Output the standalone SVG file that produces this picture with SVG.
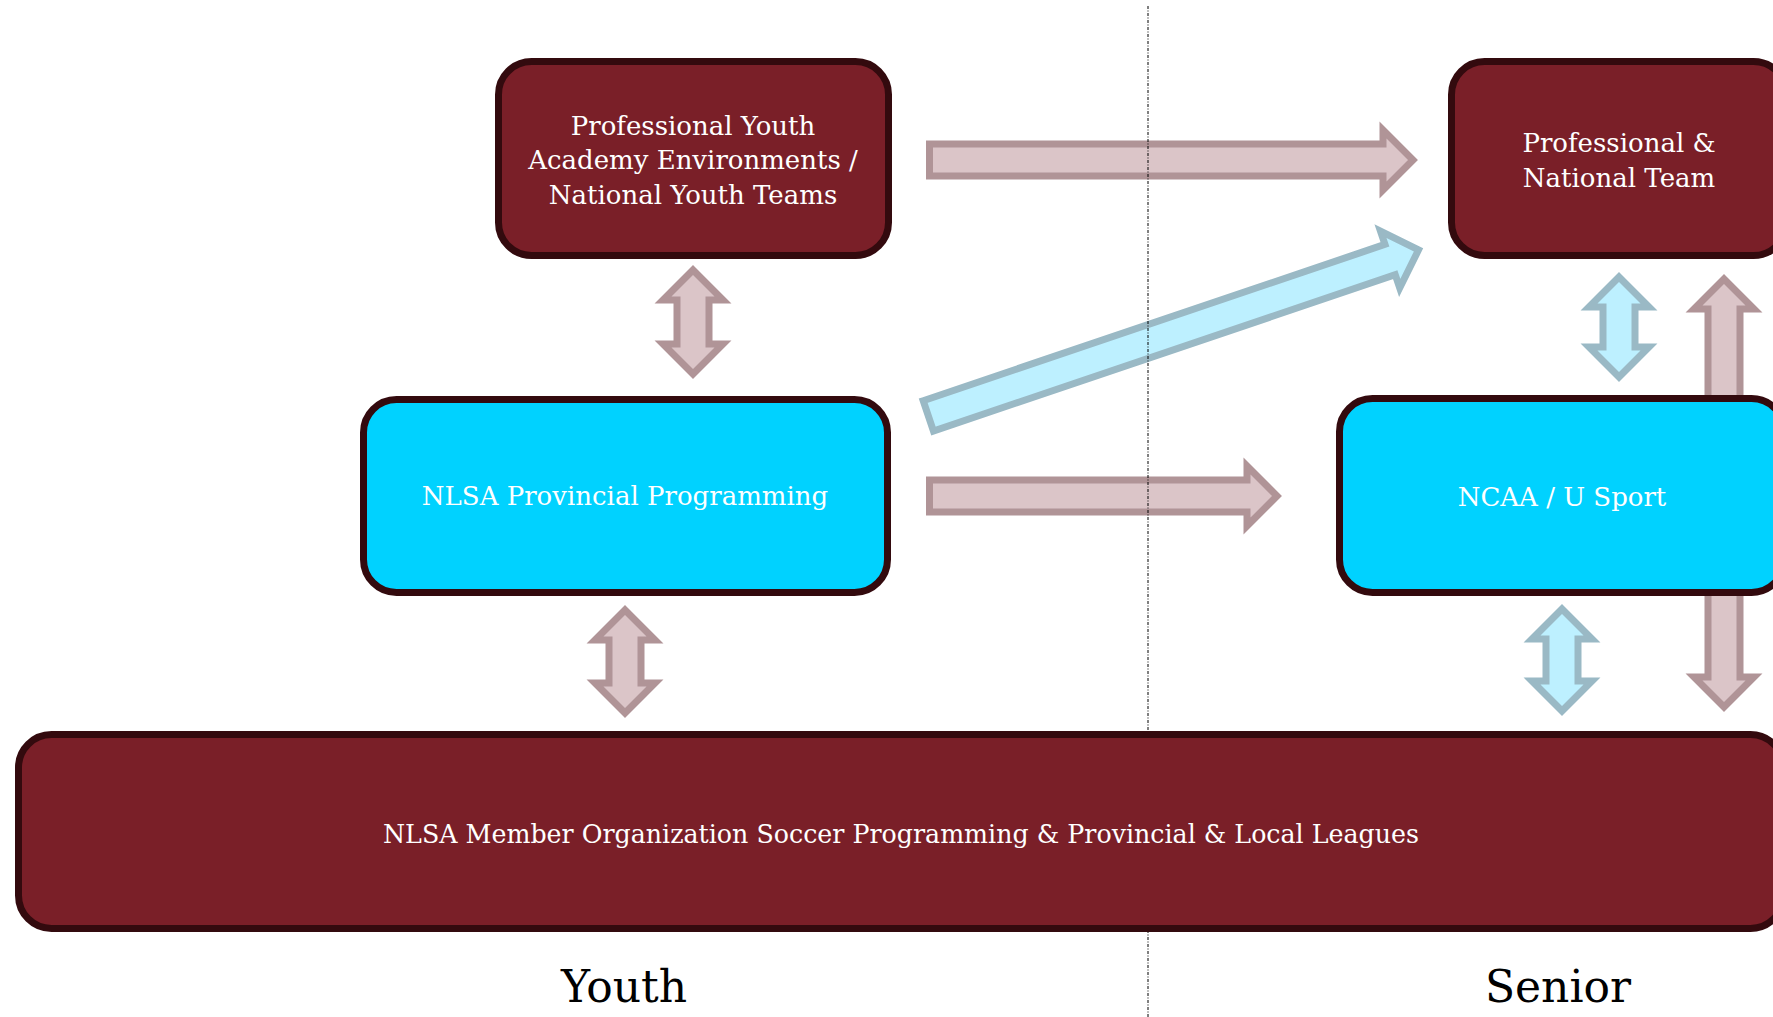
<svg xmlns="http://www.w3.org/2000/svg" width="1773" height="1017" viewBox="0 0 1773 1017">
  <style>
    .red { fill: #7A1F28; stroke: #330A0E; stroke-width: 7; }
    .cyan { fill: #00D2FF; stroke: #330A0E; stroke-width: 7; }
    .lbl { font-family: "DejaVu Serif", Georgia, serif; font-size: 26px; fill: #FFFFFF; text-anchor: middle; }
    .big { font-family: "DejaVu Serif", Georgia, serif; font-size: 44px; fill: #000000; text-anchor: middle; }
    .pink { fill: #DBC5C8; stroke: #B09497; stroke-width: 7; stroke-linejoin: miter; }
    .blue { fill: #BDF0FF; stroke: #9AB9C5; stroke-width: 7; stroke-linejoin: miter; }
  </style>
  <rect width="1773" height="1017" fill="#FFFFFF"/>
  <g id="connectors">
    <path class="pink" d="M929.5,144 H1383 V130 L1413,160 L1383,190 V176 H929.5 Z"/>
    <path class="pink" d="M929.5,480 H1247 V466 L1277,496 L1247,526 V512 H929.5 Z"/>
    <path class="blue" transform="translate(925,417) rotate(-18.7)" d="M3.5,-16 H491 V-30 L521,0 L491,30 V16 H3.5 Z"/>
    <path class="pink" d="M693,270 L723,300 H709 V344 H723 L693,374 L663,344 H677 V300 H663 Z"/>
    <path class="pink" d="M625,610 L655,640 H641 V683 H655 L625,713 L595,683 H609 V640 H595 Z"/>
    <path class="blue" d="M1619,277 L1649,307 H1635 V347 H1649 L1619,377 L1589,347 H1603 V307 H1589 Z"/>
    <path class="pink" d="M1724,279 L1754,309 H1740 V677 H1754 L1724,707 L1694,677 H1708 V309 H1694 Z"/>
    <path class="blue" d="M1562,609 L1592,639 H1578 V681 H1592 L1562,711 L1532,681 H1546 V639 H1532 Z"/>
  </g>
  <line id="divider" x1="1148" y1="6" x2="1148" y2="1017" stroke="#000000" stroke-width="1" stroke-dasharray="3 1.5 1 1.5"/>
  <g id="node-academy">
    <rect class="red" x="498.5" y="61.5" width="390" height="194" rx="33"/>
    <text class="lbl" x="693" y="135">Professional Youth</text>
    <text class="lbl" x="693" y="169">Academy Environments /</text>
    <text class="lbl" x="693" y="204">National Youth Teams</text>
  </g>
  <g id="node-pro">
    <rect class="red" x="1451.5" y="61.5" width="335" height="194" rx="33"/>
    <text class="lbl" x="1619" y="152">Professional &amp;</text>
    <text class="lbl" x="1619" y="187">National Team</text>
  </g>
  <g id="node-provincial">
    <rect class="cyan" x="363.5" y="399.5" width="524" height="193" rx="33"/>
    <text class="lbl" x="625" y="505">NLSA Provincial Programming</text>
  </g>
  <g id="node-ncaa">
    <rect class="cyan" x="1339.5" y="398.5" width="445" height="194" rx="33"/>
    <text class="lbl" x="1562" y="506">NCAA / U Sport</text>
  </g>
  <g id="node-member">
    <rect class="red" x="18.5" y="734.5" width="1765" height="194" rx="33"/>
    <text class="lbl" x="901" y="843" style="font-size:25.3px">NLSA Member Organization Soccer Programming &amp; Provincial &amp; Local Leagues</text>
  </g>
  <g id="labels">
    <text class="big" x="624" y="1002">Youth</text>
    <text class="big" x="1558" y="1002">Senior</text>
  </g>
</svg>
